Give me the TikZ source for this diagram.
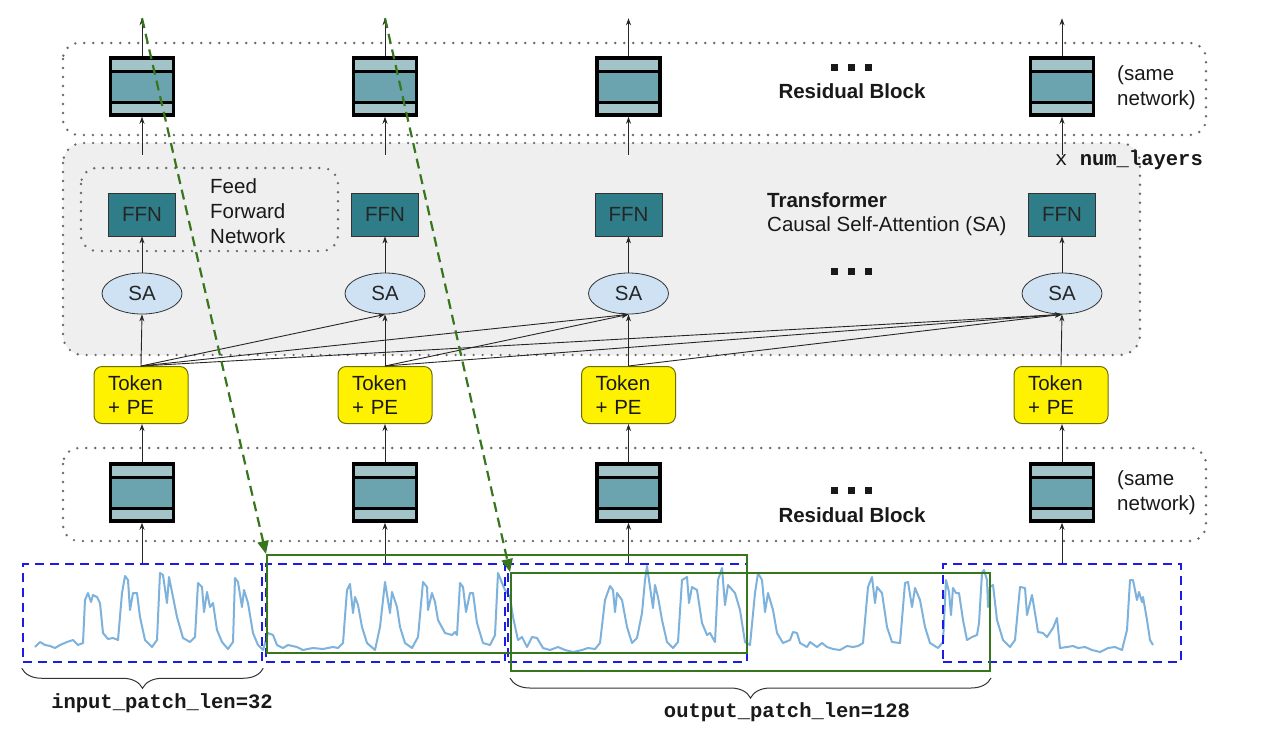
\documentclass[tikz,border=0pt]{standalone}
\usepackage{fontspec}
\setmainfont{Liberation Sans}
\setmonofont{Liberation Mono}
\usetikzlibrary{arrows.meta,decorations.pathreplacing,shapes.geometric,calc}
\definecolor{rblight}{HTML}{A2C4C9}
\definecolor{rbmid}{HTML}{6BA4AF}
\definecolor{ffnc}{HTML}{2E7D88}
\definecolor{sac}{HTML}{CFE2F3}
\definecolor{grayfill}{HTML}{EFEFEF}
\definecolor{dotc}{HTML}{6A6A6A}
\definecolor{bluec}{HTML}{1C1CE6}
\definecolor{greenc}{HTML}{38761D}
\definecolor{seriesc}{HTML}{7DB2DC}
\definecolor{tokborder}{HTML}{6E6E00}
\begin{document}
\begin{tikzpicture}[x=1pt,y=-1pt,
  font=\fontsize{20.5}{25}\selectfont,
  resblock/.style={draw=black, line width=3.5pt, fill=rblight, minimum width=63pt, minimum height=57pt, inner sep=0pt,
    path picture={
      \fill[rbmid] ([yshift=-13pt]path picture bounding box.north west) rectangle ([yshift=13pt]path picture bounding box.south east);
      \draw[line width=3pt] ([yshift=-13pt]path picture bounding box.north west) -- ([yshift=-13pt]path picture bounding box.north east);
      \draw[line width=3pt] ([yshift=13pt]path picture bounding box.south west) -- ([yshift=13pt]path picture bounding box.south east);}},
  ffn/.style={draw=black!80, line width=0.8pt, fill=ffnc, minimum width=67pt, minimum height=43pt, inner sep=0pt, text=black!85},
  sa/.style={ellipse, draw=black!80, line width=0.8pt, fill=sac, minimum width=80pt, minimum height=41pt, inner sep=0pt, text=black!85},
  token/.style={draw=tokborder, line width=1pt, fill=yellow, rounded corners=8pt, minimum width=94pt, minimum height=57pt, inner sep=0pt, align=left, text width=66pt, font=\fontsize{20.5}{24}\selectfont, text=black!90},
  patch/.style={draw=bluec, line width=2.5pt, dash pattern=on 9pt off 6pt, inner sep=0pt},
  gbox/.style={draw=greenc, line width=2pt, inner sep=0pt},
  conn/.style={-{Stealth[length=7pt,width=5pt]}, line width=0.9pt, black!85},
  gdash/.style={greenc, line width=2.2pt, dash pattern=on 10pt off 6pt, -{Triangle[length=13pt,width=11pt]}},
  dotbox/.style={dotc, line width=2.7pt, dash pattern=on 0pt off 9pt, line cap=round},
  series/.style={seriesc, line width=2pt, line join=round},
  brace/.style={decorate, decoration={brace, mirror, amplitude=20pt, aspect=0.5}, line width=1pt, black!80},
  lbl/.style={inner sep=0pt, text=black!90}
]
\useasboundingbox (0,0) rectangle (1274,732);
\fill[white] (0,0) rectangle (1274,732);

% containers
\fill[grayfill, rounded corners=20pt] (63,143) rectangle (1140,355);
\draw[dotbox, rounded corners=20pt] (63,143) rectangle (1140,355);
\draw[dotbox, rounded corners=16pt] (63,43) rectangle (1206,135);
\draw[dotbox, rounded corners=16pt] (63,448) rectangle (1206,541);
\draw[dotbox, rounded corners=16pt] (81,168) rectangle (338,251);

% top residual blocks
\node[resblock] (rt1) at (142,86.5) {};
\node[resblock] (rt2) at (385,86.5) {};
\node[resblock] (rt3) at (628.5,86.5) {};
\node[resblock] (rt4) at (1062,86.5) {};
% FFN
\node[ffn] (f1) at (142,214.5) {FFN};
\node[ffn] (f2) at (385,214.5) {FFN};
\node[ffn] (f3) at (628.5,214.5) {FFN};
\node[ffn] (f4) at (1062,214.5) {FFN};
% SA
\node[sa] (s1) at (142,293.5) {SA};
\node[sa] (s2) at (385,293.5) {SA};
\node[sa] (s3) at (628.5,293.5) {SA};
\node[sa] (s4) at (1062,293.5) {SA};
% tokens
\node[token] (t1) at (141,395) {Token\\+ PE};
\node[token] (t2) at (385,395) {Token\\+ PE};
\node[token] (t3) at (628.5,395) {Token\\+ PE};
\node[token] (t4) at (1061,395) {Token\\+ PE};
% bottom residual blocks
\node[resblock] (rb1) at (142,492.5) {};
\node[resblock] (rb2) at (385,492.5) {};
\node[resblock] (rb3) at (628.5,492.5) {};
\node[resblock] (rb4) at (1062,492.5) {};

% texts
\node[lbl, font=\fontsize{20.5}{25}\selectfont\bfseries] (rtl) at (852,91) {Residual Block};
\node[lbl, font=\fontsize{20.5}{25}\selectfont\bfseries] (rbl) at (852,515) {Residual Block};
\node[lbl, align=left, anchor=west] (sn1) at (1117,87.5) {(same\\network)};
\node[lbl, align=left, anchor=west] (sn2) at (1117,492.5) {(same\\network)};
\node[lbl, anchor=west] (nl) at (1055,160) {\ttfamily x \bfseries num\_layers};
\node[lbl, align=left, anchor=west] (ffl) at (210,211) {Feed\\Forward\\Network};
\node[lbl, anchor=west, font=\fontsize{20.5}{25}\selectfont\bfseries] (trl) at (767,200) {Transformer};
\node[lbl, anchor=west] (csl) at (767,226) {Causal Self-Attention (SA)};
\foreach \yy in {67,271,490}{
  \foreach \xx in {834,851,868}{
    \fill[black!90] (\xx-3.5,\yy-3.5) rectangle (\xx+3.5,\yy+3.5);
  }
}

% connectors
\foreach \i in {1,2,3,4}{
  \coordinate (o\i) at ($(rt\i.north)+(0,-38)$);
  \coordinate (tr\i) at ($(rt\i.south)+(0,38)$);
  \draw[conn] (rt\i.north) -- (o\i);
  \draw[conn] (tr\i) -- (rt\i.south);
  \draw[conn] (s\i.north) -- (f\i.south);
  \draw[conn] (t\i.north) -- (s\i.south);
  \draw[conn] (rb\i.north) -- (rb\i.north |- t\i.south);
}
\draw[conn] (t1.north) -- (s2.south);
\draw[conn] (t1.north) -- (s3.south);
\draw[conn] (t1.north) -- (s4.south);
\draw[conn] (t2.north) -- (s3.south);
\draw[conn] (t2.north) -- (s4.south);
\draw[conn] (t3.north) -- (s4.south);

% time series
\draw[series] plot coordinates {(35,647) (40,642) (45,645) (50,646) (55,648) (60,645) (67,642) (73,640) (78,645) (83,643) (85,600) (88,593) (91,602) (93,595) (97,597) (100,603) (103,633) (108,639) (113,638) (118,640) (122,593) (125,576) (128,580) (130,610) (133,593) (137,593) (140,617) (145,640) (152,647) (157,640) (160,573) (163,575) (167,603) (169,577) (173,597) (177,617) (183,638) (190,642) (195,637) (198,583) (202,587) (204,612) (207,592) (210,607) (213,603) (217,630) (222,642) (228,649) (233,642) (235,578) (238,582) (242,607) (244,590) (248,603) (253,633) (258,645) (263,650) (268,633) (273,635) (277,645) (283,648) (288,645) (297,647) (303,650) (313,648) (323,649) (333,647) (338,648) (343,643) (347,590) (350,584) (353,613) (355,597) (358,605) (362,627) (367,643) (375,650) (380,627) (385,582) (390,613) (392,592) (397,607) (400,627) (405,643) (412,648) (418,637) (423,582) (427,587) (428,610) (432,593) (435,602) (438,620) (445,633) (452,635) (455,632) (457,635) (460,583) (463,587) (466,612) (470,593) (473,593) (477,623) (483,643) (490,645) (495,635) (498,573) (502,583) (505,590) (510,597) (513,617) (518,640) (522,637) (527,647) (532,637) (537,638) (543,648) (550,650) (558,647) (565,650) (573,652) (582,650) (588,648) (595,649) (600,643) (605,600) (610,586) (613,590) (615,612) (617,593) (622,600) (627,627) (632,643) (637,638) (642,613) (645,580) (647,566) (650,587) (653,608) (655,585) (658,597) (662,620) (667,642) (673,648) (678,642) (682,580) (687,577) (689,603) (692,587) (697,590) (702,623) (707,635) (710,633) (715,642) (718,580) (722,568) (725,605) (728,585) (735,593) (740,610) (745,642) (750,645) (755,593) (758,573) (762,580) (765,612) (768,593) (773,610) (777,633) (783,643) (790,640) (793,632) (797,633) (800,643) (807,647) (810,642) (817,647) (822,643) (827,647) (833,649) (840,650) (847,646) (853,647) (858,646) (863,643) (868,587) (872,577) (875,603) (877,587) (882,593) (887,627) (892,642) (900,643) (905,583) (908,582) (912,607) (915,588) (920,600) (925,627) (930,643) (938,648) (943,642) (946,580) (949,592) (951,615) (953,588) (956,593) (959,593) (963,620) (967,640) (972,637) (977,635) (979,623) (982,573) (984,570) (987,580) (988,607) (990,587) (993,585) (997,620) (1003,640) (1010,647) (1015,640) (1020,587) (1025,588) (1027,615) (1032,595) (1035,613) (1038,632) (1043,633) (1047,637) (1053,628) (1057,618) (1060,648) (1067,647) (1073,646) (1078,648) (1085,647) (1092,650) (1100,652) (1108,648) (1115,647) (1122,650) (1127,630) (1130,580) (1133,580) (1137,600) (1139,592) (1142,602) (1143,597) (1147,620) (1150,640) (1153,645)};

% patches
\node[patch, minimum width=239pt, minimum height=98pt] (p1) at (142.5,613) {};
\node[patch, minimum width=239pt, minimum height=98pt] (p2) at (385.5,613) {};
\node[patch, minimum width=239pt, minimum height=98pt] (p3) at (627.5,613) {};
\node[patch, minimum width=238pt, minimum height=98pt] (p4) at (1062,613) {};
\foreach \i in {1,2,3,4}{
  \draw[conn] (rb\i.south |- p\i.north) -- (rb\i.south);
}
\node[gbox, minimum width=480pt, minimum height=98pt] (g1) at (507,604) {};
\node[gbox, minimum width=479pt, minimum height=98pt] (g2) at (750.5,622) {};

% green dashed arrows
\draw[gdash] (o1) -- (g1.north west);
\draw[gdash] (o2) -- (g2.north west);

% braces
\draw[brace] ([yshift=-5pt]p1.south west) -- ([yshift=-5pt]p1.south east);
\draw[brace] ([yshift=-6pt]g2.south west) -- ([yshift=-6pt]g2.south east);
\node[lbl, font=\fontsize{20.5}{25}\selectfont\ttfamily\bfseries] (ipl) at (162,703) {input\_patch\_len=32};
\node[lbl, font=\fontsize{20.5}{25}\selectfont\ttfamily\bfseries] (opl) at (787,712) {output\_patch\_len=128};
\end{tikzpicture}
\end{document}
